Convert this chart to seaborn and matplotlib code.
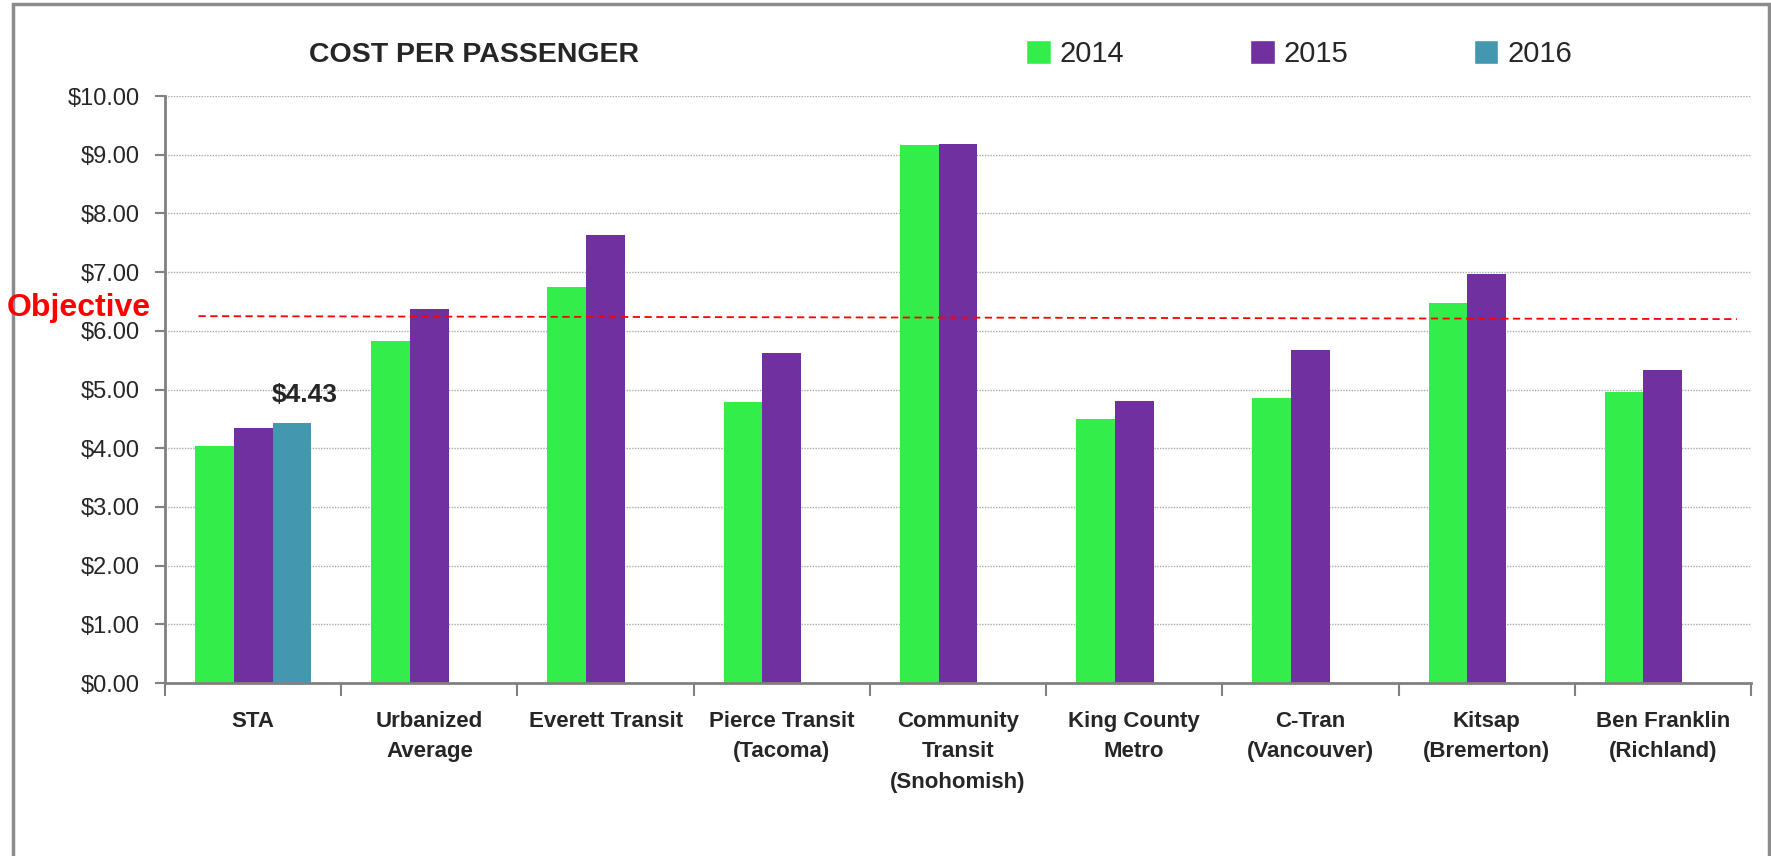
import pandas as pd
import numpy as np
import matplotlib.pyplot as plt
import seaborn as sns
from matplotlib.patches import Rectangle, Patch
from matplotlib.ticker import FuncFormatter, FixedLocator

# Cost per passenger by agency and year
agencies = ['STA', 'Urbanized\nAverage', 'Everett Transit', 'Pierce Transit\n(Tacoma)',
            'Community\nTransit\n(Snohomish)', 'King County\nMetro', 'C-Tran\n(Vancouver)',
            'Kitsap\n(Bremerton)', 'Ben Franklin\n(Richland)']
years = ['2014', '2015', '2016']
cost_2014 = [4.03, 5.83, 6.75, 4.79, 9.17, 4.49, 4.86, 6.48, 4.96]
cost_2015 = [4.34, 6.37, 7.63, 5.62, 9.19, 4.80, 5.68, 6.96, 5.33]
cost_2016 = [4.43, None, None, None, None, None, None, None, None]
objective_start = 6.25
objective_end = 6.20
sta_label = '$4.43'

colors = ['#33EE4A', '#7030A0', '#4397AE']

rows = []
for yr, vals in zip(years, [cost_2014, cost_2015, cost_2016]):
    for a, v in zip(agencies, vals):
        rows.append({'agency': a, 'year': yr, 'cost': v})
df = pd.DataFrame(rows)

sns.set_style('white')
plt.rcParams['font.family'] = ['Liberation Sans Narrow', 'Liberation Sans', 'DejaVu Sans']

fig = plt.figure(figsize=(17.71, 8.56), dpi=100)
ax = fig.add_axes([0.0932, 0.2021, 0.8955, 0.6857])

sns.barplot(data=df, x='agency', y='cost', hue='year', hue_order=years,
            palette=colors, width=0.66, saturation=1, ax=ax, legend=False,
            errorbar=None, linewidth=0)

ax.set_xlim(-0.5, len(agencies) - 0.5)
ax.set_ylim(0, 10)
ax.set_yticks(np.arange(0, 11, 1))
ax.yaxis.set_major_formatter(FuncFormatter(lambda v, p: f'${v:.2f}'))
ax.tick_params(axis='y', labelsize=17, length=7, width=1.5, color='#808080',
               left=True, pad=11)
ax.tick_params(axis='x', which='major', length=0, pad=20)
ax.xaxis.set_minor_locator(FixedLocator(np.arange(-0.5, len(agencies), 1)))
ax.tick_params(axis='x', which='minor', length=9, width=1.5, color='#808080', bottom=True)
for lbl in ax.get_xticklabels():
    lbl.set_fontweight('bold')
    lbl.set_fontsize(16)
    lbl.set_linespacing(1.6)
ax.set_xlabel('')
ax.set_ylabel('')

ax.yaxis.grid(True, color='#AAAAAA', linestyle=(0, (1, 1)), linewidth=1)
ax.set_axisbelow(True)
for s in ['top', 'right']:
    ax.spines[s].set_visible(False)
for s in ['left', 'bottom']:
    ax.spines[s].set_color('#808080')
    ax.spines[s].set_linewidth(2)

# Objective line
ax.plot([-0.31, 8.42], [objective_start, objective_end], color='red',
        linestyle=(0, (4, 2.5)), linewidth=1.3)
fig.text(0.004, 1 - 308 / 856, 'Objective', color='red', fontsize=23,
         fontweight='bold', va='center', ha='left', family=['Liberation Sans', 'DejaVu Sans'])

# 2016 label on the STA bar
bar16 = ax.containers[2].patches[0]
ax.text(bar16.get_x() + bar16.get_width() / 2 + 0.07, bar16.get_height() + 0.48, sta_label,
        ha='center', va='center', fontsize=19, fontweight='bold')

# Title
fig.text(474 / 1771, 1 - 55 / 856, 'COST PER PASSENGER', ha='center', va='center',
         fontsize=20.5, fontweight='bold')

# Legend
handles = [Patch(facecolor=c, label=y) for c, y in zip(colors, years)]
fig.legend(handles=handles, loc='center left', bbox_to_anchor=(1000 / 1771, 1 - 54 / 856),
           ncol=3, frameon=False, fontsize=21, handlelength=0.85, handleheight=0.85,
           handletextpad=0.3, columnspacing=4.3)

# Outer frame
fig.add_artist(Rectangle((13 / 1771, -0.05), (1769 - 13) / 1771, 1.05 - 4 / 856,
                         transform=fig.transFigure, fill=False, edgecolor='#8C8C8C',
                         linewidth=2.5))

plt.savefig('out.png', dpi=100)
